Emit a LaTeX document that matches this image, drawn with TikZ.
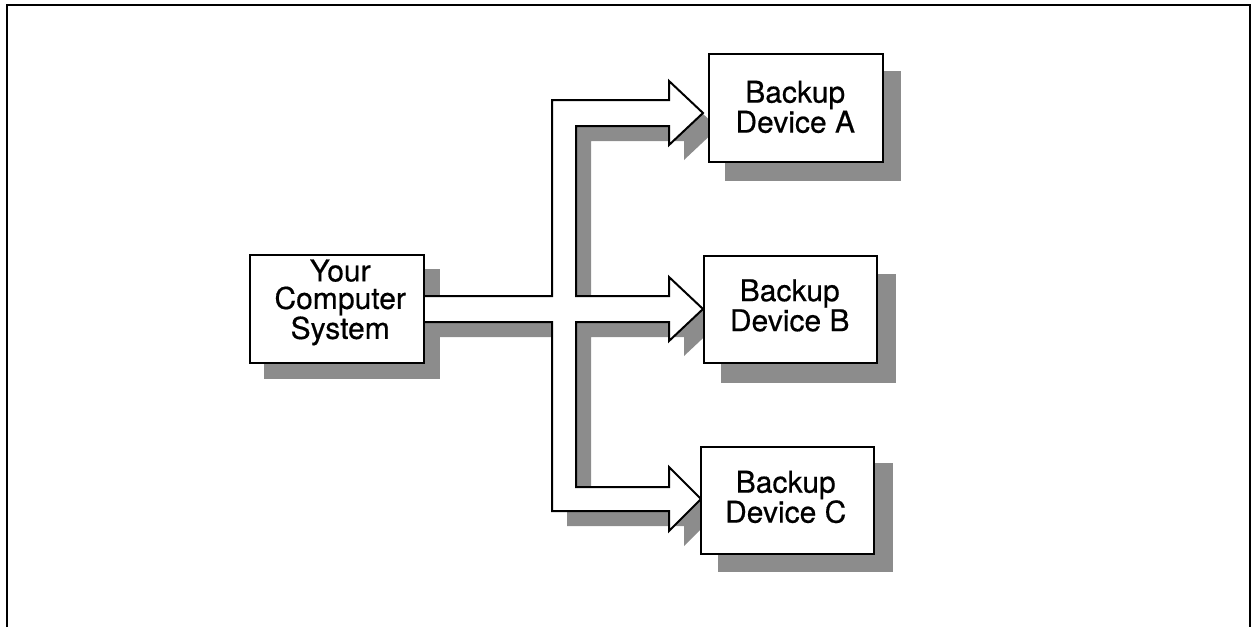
\documentclass[tikz,border=0pt]{standalone}
\usepackage{fontspec}
\newfontfamily\labfont[FakeBold=0.5]{TeX Gyre Heros}
\usetikzlibrary{backgrounds}
\tikzset{
  devbox/.style={draw=black, line width=2.4pt, fill=white,
    inner sep=0pt, anchor=north west},
  srclabel/.style={align=center, inner sep=0pt, text depth=0pt,
    font=\labfont\fontsize{30}{27.5}\selectfont},
  devlabel/.style={align=center, inner sep=0pt, text depth=0pt,
    font=\labfont\fontsize{30}{30}\selectfont},
  shadowfill/.style={fill=black!45},
  arrowline/.style={draw=black, line width=2pt, fill=white, line join=miter},
  arrowshape/.style={insert path={
    (423,296) -- (552,296) -- (552,100) -- (669,100) -- (669,81) -- (703,113)
    -- (669,145) -- (669,126) -- (576,126) -- (576,296) -- (669,296)
    -- (669,277) -- (703,309) -- (669,341) -- (669,322) -- (576,322)
    -- (576,487) -- (669,487) -- (669,467) -- (701,499) -- (669,531)
    -- (669,511) -- (552,511) -- (552,322) -- (423,322) -- cycle}}
}
\begin{document}
\begin{tikzpicture}[x=1pt,y=-1pt]
\useasboundingbox (0,0) rectangle (1252,627);
% outer frame
\draw[line width=2pt] (7,627) -- (7,5) -- (1250,5) -- (1250,627);

% boxes
\node[devbox, minimum width=174pt, minimum height=108pt] (src) at (249,254) {};
\node[devbox, minimum width=174pt, minimum height=108pt] (devA) at (708,53) {};
\node[devbox, minimum width=173pt, minimum height=107pt] (devB) at (703,255) {};
\node[devbox, minimum width=173pt, minimum height=107pt] (devC) at (700,446) {};

% labels
\node[srclabel] (srcT) at ([xshift=3pt,yshift=10pt]src.center) {Your\\Computer\\System};
\node[devlabel] (devAT) at ([xshift=-1pt,yshift=1.5pt]devA.center) {Backup\\Device A};
\node[devlabel] (devBT) at ([xshift=-1pt,yshift=4.5pt]devB.center) {Backup\\Device B};
\node[devlabel] (devCT) at ([xshift=-2pt,yshift=4pt]devC.center) {Backup\\Device C};

\begin{scope}[on background layer]
  % shadows
  \fill[shadowfill] ([shift={(15,15)}]src.north west) rectangle ([shift={(15,15)}]src.south east);
  \fill[shadowfill] ([shift={(17,18)}]devA.north west) rectangle ([shift={(17,18)}]devA.south east);
  \fill[shadowfill] ([shift={(18,19)}]devB.north west) rectangle ([shift={(18,19)}]devB.south east);
  \fill[shadowfill] ([shift={(18,17)}]devC.north west) rectangle ([shift={(18,17)}]devC.south east);
  \begin{scope}[shift={(15,15)}]
    \fill[shadowfill, arrowshape];
  \end{scope}
  % branching block arrow
  \path[arrowline, arrowshape];
\end{scope}
\end{tikzpicture}
\end{document}
